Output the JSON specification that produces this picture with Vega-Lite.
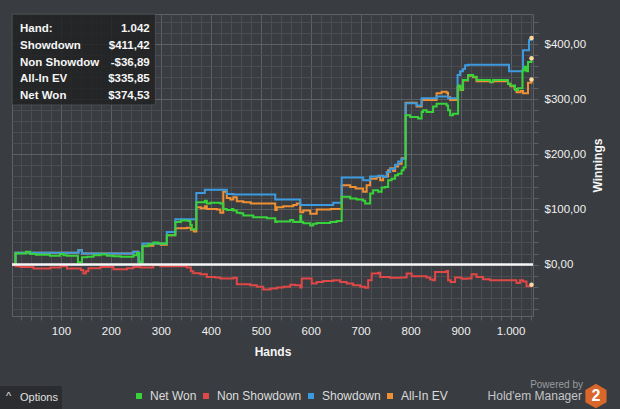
{
  "$schema": "https://vega.github.io/schema/vega-lite/v6.json",
  "width": 521,
  "height": 302,
  "autosize": {"type": "none"},
  "padding": {"left": 12, "top": 14, "right": 87, "bottom": 93},
  "background": "#393c40",
  "config": {
    "locale": {"number": {"decimal": ",", "thousands": ".", "grouping": [3], "currency": ["$", ""]}},
    "font": "Liberation Sans",
    "view": {"stroke": "#5e6165", "strokeWidth": 1}
  },
  "datasets": {
    "series": [
      {"hand": 2, "series": "All-In EV", "value": 0},
      {"hand": 9, "series": "All-In EV", "value": 21.5},
      {"hand": 135, "series": "All-In EV", "value": 26},
      {"hand": 142, "series": "All-In EV", "value": 20},
      {"hand": 245, "series": "All-In EV", "value": 23},
      {"hand": 255, "series": "All-In EV", "value": 5},
      {"hand": 263, "series": "All-In EV", "value": 34},
      {"hand": 285, "series": "All-In EV", "value": 38},
      {"hand": 300, "series": "All-In EV", "value": 36},
      {"hand": 312, "series": "All-In EV", "value": 53},
      {"hand": 329, "series": "All-In EV", "value": 66},
      {"hand": 352, "series": "All-In EV", "value": 67},
      {"hand": 360, "series": "All-In EV", "value": 63},
      {"hand": 366, "series": "All-In EV", "value": 60},
      {"hand": 371, "series": "All-In EV", "value": 104},
      {"hand": 380, "series": "All-In EV", "value": 102},
      {"hand": 388, "series": "All-In EV", "value": 106},
      {"hand": 392, "series": "All-In EV", "value": 101},
      {"hand": 412, "series": "All-In EV", "value": 100},
      {"hand": 419, "series": "All-In EV", "value": 94},
      {"hand": 425, "series": "All-In EV", "value": 132},
      {"hand": 432, "series": "All-In EV", "value": 121},
      {"hand": 439, "series": "All-In EV", "value": 118},
      {"hand": 445, "series": "All-In EV", "value": 122},
      {"hand": 452, "series": "All-In EV", "value": 115},
      {"hand": 465, "series": "All-In EV", "value": 113},
      {"hand": 480, "series": "All-In EV", "value": 111},
      {"hand": 529, "series": "All-In EV", "value": 99},
      {"hand": 532, "series": "All-In EV", "value": 104},
      {"hand": 545, "series": "All-In EV", "value": 106},
      {"hand": 565, "series": "All-In EV", "value": 108},
      {"hand": 572, "series": "All-In EV", "value": 111},
      {"hand": 579, "series": "All-In EV", "value": 95},
      {"hand": 585, "series": "All-In EV", "value": 98},
      {"hand": 599, "series": "All-In EV", "value": 92},
      {"hand": 612, "series": "All-In EV", "value": 100},
      {"hand": 640, "series": "All-In EV", "value": 101},
      {"hand": 662, "series": "All-In EV", "value": 144},
      {"hand": 679, "series": "All-In EV", "value": 141},
      {"hand": 690, "series": "All-In EV", "value": 138},
      {"hand": 705, "series": "All-In EV", "value": 132},
      {"hand": 712, "series": "All-In EV", "value": 144},
      {"hand": 719, "series": "All-In EV", "value": 156},
      {"hand": 732, "series": "All-In EV", "value": 159},
      {"hand": 739, "series": "All-In EV", "value": 153},
      {"hand": 745, "series": "All-In EV", "value": 160},
      {"hand": 755, "series": "All-In EV", "value": 171},
      {"hand": 759, "series": "All-In EV", "value": 175},
      {"hand": 765, "series": "All-In EV", "value": 170},
      {"hand": 769, "series": "All-In EV", "value": 178},
      {"hand": 775, "series": "All-In EV", "value": 183},
      {"hand": 782, "series": "All-In EV", "value": 193},
      {"hand": 790, "series": "All-In EV", "value": 294},
      {"hand": 812, "series": "All-In EV", "value": 287},
      {"hand": 822, "series": "All-In EV", "value": 299},
      {"hand": 852, "series": "All-In EV", "value": 311},
      {"hand": 862, "series": "All-In EV", "value": 314},
      {"hand": 872, "series": "All-In EV", "value": 312},
      {"hand": 875, "series": "All-In EV", "value": 304},
      {"hand": 879, "series": "All-In EV", "value": 299},
      {"hand": 894, "series": "All-In EV", "value": 323},
      {"hand": 900, "series": "All-In EV", "value": 317},
      {"hand": 905, "series": "All-In EV", "value": 334},
      {"hand": 915, "series": "All-In EV", "value": 343},
      {"hand": 925, "series": "All-In EV", "value": 340},
      {"hand": 932, "series": "All-In EV", "value": 333},
      {"hand": 959, "series": "All-In EV", "value": 331},
      {"hand": 965, "series": "All-In EV", "value": 333},
      {"hand": 995, "series": "All-In EV", "value": 328},
      {"hand": 1000, "series": "All-In EV", "value": 324},
      {"hand": 1008, "series": "All-In EV", "value": 319},
      {"hand": 1012, "series": "All-In EV", "value": 313},
      {"hand": 1020, "series": "All-In EV", "value": 315},
      {"hand": 1025, "series": "All-In EV", "value": 311},
      {"hand": 1035, "series": "All-In EV", "value": 330},
      {"hand": 1042, "series": "All-In EV", "value": 335.85},

      {"hand": 2, "series": "Showdown", "value": 0},
      {"hand": 9, "series": "Showdown", "value": 21.5},
      {"hand": 135, "series": "Showdown", "value": 26},
      {"hand": 142, "series": "Showdown", "value": 20},
      {"hand": 245, "series": "Showdown", "value": 23},
      {"hand": 255, "series": "Showdown", "value": 5},
      {"hand": 263, "series": "Showdown", "value": 38},
      {"hand": 312, "series": "Showdown", "value": 59},
      {"hand": 329, "series": "Showdown", "value": 82},
      {"hand": 371, "series": "Showdown", "value": 130},
      {"hand": 388, "series": "Showdown", "value": 136},
      {"hand": 432, "series": "Showdown", "value": 128},
      {"hand": 445, "series": "Showdown", "value": 127},
      {"hand": 529, "series": "Showdown", "value": 118},
      {"hand": 579, "series": "Showdown", "value": 108},
      {"hand": 645, "series": "Showdown", "value": 112},
      {"hand": 662, "series": "Showdown", "value": 158},
      {"hand": 705, "series": "Showdown", "value": 153},
      {"hand": 719, "series": "Showdown", "value": 160},
      {"hand": 735, "series": "Showdown", "value": 161},
      {"hand": 745, "series": "Showdown", "value": 159},
      {"hand": 752, "series": "Showdown", "value": 168},
      {"hand": 759, "series": "Showdown", "value": 174},
      {"hand": 769, "series": "Showdown", "value": 181},
      {"hand": 775, "series": "Showdown", "value": 187},
      {"hand": 782, "series": "Showdown", "value": 192},
      {"hand": 790, "series": "Showdown", "value": 293},
      {"hand": 812, "series": "Showdown", "value": 289},
      {"hand": 822, "series": "Showdown", "value": 302},
      {"hand": 852, "series": "Showdown", "value": 305},
      {"hand": 875, "series": "Showdown", "value": 302},
      {"hand": 894, "series": "Showdown", "value": 344},
      {"hand": 899, "series": "Showdown", "value": 351},
      {"hand": 905, "series": "Showdown", "value": 355},
      {"hand": 909, "series": "Showdown", "value": 362},
      {"hand": 915, "series": "Showdown", "value": 363},
      {"hand": 997, "series": "Showdown", "value": 351},
      {"hand": 1025, "series": "Showdown", "value": 389},
      {"hand": 1037, "series": "Showdown", "value": 408},
      {"hand": 1042, "series": "Showdown", "value": 411.42},

      {"hand": 2, "series": "Net Won", "value": 0},
      {"hand": 9, "series": "Net Won", "value": 20},
      {"hand": 30, "series": "Net Won", "value": 23},
      {"hand": 38, "series": "Net Won", "value": 19},
      {"hand": 50, "series": "Net Won", "value": 17.6},
      {"hand": 78, "series": "Net Won", "value": 16},
      {"hand": 98, "series": "Net Won", "value": 19},
      {"hand": 105, "series": "Net Won", "value": 17},
      {"hand": 112, "series": "Net Won", "value": 16},
      {"hand": 134, "series": "Net Won", "value": 4},
      {"hand": 142, "series": "Net Won", "value": 13},
      {"hand": 152, "series": "Net Won", "value": 14},
      {"hand": 165, "series": "Net Won", "value": 17},
      {"hand": 179, "series": "Net Won", "value": 18},
      {"hand": 192, "series": "Net Won", "value": 16},
      {"hand": 205, "series": "Net Won", "value": 15},
      {"hand": 219, "series": "Net Won", "value": 14},
      {"hand": 245, "series": "Net Won", "value": 17},
      {"hand": 252, "series": "Net Won", "value": 21},
      {"hand": 257, "series": "Net Won", "value": 3},
      {"hand": 263, "series": "Net Won", "value": 33},
      {"hand": 275, "series": "Net Won", "value": 37},
      {"hand": 285, "series": "Net Won", "value": 40},
      {"hand": 295, "series": "Net Won", "value": 38},
      {"hand": 312, "series": "Net Won", "value": 53},
      {"hand": 329, "series": "Net Won", "value": 77},
      {"hand": 340, "series": "Net Won", "value": 80},
      {"hand": 355, "series": "Net Won", "value": 79},
      {"hand": 359, "series": "Net Won", "value": 72},
      {"hand": 362, "series": "Net Won", "value": 64},
      {"hand": 371, "series": "Net Won", "value": 113},
      {"hand": 388, "series": "Net Won", "value": 116},
      {"hand": 392, "series": "Net Won", "value": 111},
      {"hand": 399, "series": "Net Won", "value": 112},
      {"hand": 419, "series": "Net Won", "value": 111},
      {"hand": 425, "series": "Net Won", "value": 101},
      {"hand": 432, "series": "Net Won", "value": 99},
      {"hand": 442, "series": "Net Won", "value": 101},
      {"hand": 445, "series": "Net Won", "value": 98},
      {"hand": 452, "series": "Net Won", "value": 94},
      {"hand": 459, "series": "Net Won", "value": 93},
      {"hand": 465, "series": "Net Won", "value": 89},
      {"hand": 485, "series": "Net Won", "value": 86},
      {"hand": 512, "series": "Net Won", "value": 84},
      {"hand": 529, "series": "Net Won", "value": 77},
      {"hand": 532, "series": "Net Won", "value": 78},
      {"hand": 559, "series": "Net Won", "value": 81},
      {"hand": 565, "series": "Net Won", "value": 77},
      {"hand": 579, "series": "Net Won", "value": 89},
      {"hand": 581, "series": "Net Won", "value": 77},
      {"hand": 585, "series": "Net Won", "value": 75},
      {"hand": 599, "series": "Net Won", "value": 71},
      {"hand": 605, "series": "Net Won", "value": 74},
      {"hand": 612, "series": "Net Won", "value": 75.5},
      {"hand": 639, "series": "Net Won", "value": 77},
      {"hand": 652, "series": "Net Won", "value": 79},
      {"hand": 662, "series": "Net Won", "value": 123},
      {"hand": 679, "series": "Net Won", "value": 120},
      {"hand": 692, "series": "Net Won", "value": 118},
      {"hand": 705, "series": "Net Won", "value": 116},
      {"hand": 709, "series": "Net Won", "value": 111},
      {"hand": 719, "series": "Net Won", "value": 129},
      {"hand": 725, "series": "Net Won", "value": 135},
      {"hand": 735, "series": "Net Won", "value": 132},
      {"hand": 742, "series": "Net Won", "value": 140},
      {"hand": 749, "series": "Net Won", "value": 141},
      {"hand": 755, "series": "Net Won", "value": 153},
      {"hand": 762, "series": "Net Won", "value": 156},
      {"hand": 769, "series": "Net Won", "value": 162},
      {"hand": 775, "series": "Net Won", "value": 165},
      {"hand": 782, "series": "Net Won", "value": 171},
      {"hand": 786, "series": "Net Won", "value": 176},
      {"hand": 790, "series": "Net Won", "value": 271},
      {"hand": 799, "series": "Net Won", "value": 268},
      {"hand": 815, "series": "Net Won", "value": 265},
      {"hand": 822, "series": "Net Won", "value": 277},
      {"hand": 825, "series": "Net Won", "value": 280},
      {"hand": 832, "series": "Net Won", "value": 277},
      {"hand": 845, "series": "Net Won", "value": 287},
      {"hand": 852, "series": "Net Won", "value": 292},
      {"hand": 872, "series": "Net Won", "value": 289},
      {"hand": 875, "series": "Net Won", "value": 280},
      {"hand": 879, "series": "Net Won", "value": 271},
      {"hand": 885, "series": "Net Won", "value": 274},
      {"hand": 895, "series": "Net Won", "value": 325},
      {"hand": 900, "series": "Net Won", "value": 318},
      {"hand": 905, "series": "Net Won", "value": 335},
      {"hand": 915, "series": "Net Won", "value": 344},
      {"hand": 925, "series": "Net Won", "value": 341},
      {"hand": 932, "series": "Net Won", "value": 335},
      {"hand": 959, "series": "Net Won", "value": 332},
      {"hand": 965, "series": "Net Won", "value": 335},
      {"hand": 995, "series": "Net Won", "value": 329},
      {"hand": 999, "series": "Net Won", "value": 325},
      {"hand": 1009, "series": "Net Won", "value": 317},
      {"hand": 1015, "series": "Net Won", "value": 320},
      {"hand": 1024, "series": "Net Won", "value": 353},
      {"hand": 1028, "series": "Net Won", "value": 359},
      {"hand": 1032, "series": "Net Won", "value": 351},
      {"hand": 1035, "series": "Net Won", "value": 368},
      {"hand": 1042, "series": "Net Won", "value": 374.53},

      {"hand": 2, "series": "Non Showdown", "value": 0},
      {"hand": 9, "series": "Non Showdown", "value": -3},
      {"hand": 19, "series": "Non Showdown", "value": -4.5},
      {"hand": 45, "series": "Non Showdown", "value": -7.3},
      {"hand": 79, "series": "Non Showdown", "value": -5.5},
      {"hand": 99, "series": "Non Showdown", "value": -3},
      {"hand": 112, "series": "Non Showdown", "value": -7.3},
      {"hand": 140, "series": "Non Showdown", "value": -10},
      {"hand": 145, "series": "Non Showdown", "value": -16.4},
      {"hand": 150, "series": "Non Showdown", "value": -12},
      {"hand": 155, "series": "Non Showdown", "value": -7},
      {"hand": 179, "series": "Non Showdown", "value": -4.5},
      {"hand": 205, "series": "Non Showdown", "value": -8.5},
      {"hand": 232, "series": "Non Showdown", "value": -7},
      {"hand": 245, "series": "Non Showdown", "value": -4.5},
      {"hand": 259, "series": "Non Showdown", "value": -5.5},
      {"hand": 285, "series": "Non Showdown", "value": -1},
      {"hand": 299, "series": "Non Showdown", "value": -3},
      {"hand": 339, "series": "Non Showdown", "value": -3},
      {"hand": 352, "series": "Non Showdown", "value": -5.5},
      {"hand": 360, "series": "Non Showdown", "value": -12},
      {"hand": 365, "series": "Non Showdown", "value": -16},
      {"hand": 379, "series": "Non Showdown", "value": -17.6},
      {"hand": 392, "series": "Non Showdown", "value": -22.5},
      {"hand": 409, "series": "Non Showdown", "value": -23.5},
      {"hand": 419, "series": "Non Showdown", "value": -25.5},
      {"hand": 445, "series": "Non Showdown", "value": -24},
      {"hand": 452, "series": "Non Showdown", "value": -36},
      {"hand": 479, "series": "Non Showdown", "value": -37.6},
      {"hand": 492, "series": "Non Showdown", "value": -40.6},
      {"hand": 505, "series": "Non Showdown", "value": -45.5},
      {"hand": 519, "series": "Non Showdown", "value": -43.6},
      {"hand": 532, "series": "Non Showdown", "value": -41.8},
      {"hand": 545, "series": "Non Showdown", "value": -40.6},
      {"hand": 559, "series": "Non Showdown", "value": -36.6},
      {"hand": 569, "series": "Non Showdown", "value": -37.6},
      {"hand": 579, "series": "Non Showdown", "value": -41.8},
      {"hand": 582, "series": "Non Showdown", "value": -25.5},
      {"hand": 595, "series": "Non Showdown", "value": -25.5},
      {"hand": 602, "series": "Non Showdown", "value": -34.5},
      {"hand": 612, "series": "Non Showdown", "value": -31.6},
      {"hand": 625, "series": "Non Showdown", "value": -30},
      {"hand": 645, "series": "Non Showdown", "value": -28.5},
      {"hand": 659, "series": "Non Showdown", "value": -31.6},
      {"hand": 672, "series": "Non Showdown", "value": -34.5},
      {"hand": 685, "series": "Non Showdown", "value": -37.6},
      {"hand": 699, "series": "Non Showdown", "value": -40.6},
      {"hand": 709, "series": "Non Showdown", "value": -42},
      {"hand": 715, "series": "Non Showdown", "value": -28.5},
      {"hand": 722, "series": "Non Showdown", "value": -16.4},
      {"hand": 735, "series": "Non Showdown", "value": -15},
      {"hand": 739, "series": "Non Showdown", "value": -22.5},
      {"hand": 759, "series": "Non Showdown", "value": -24},
      {"hand": 779, "series": "Non Showdown", "value": -23.6},
      {"hand": 792, "series": "Non Showdown", "value": -16.4},
      {"hand": 802, "series": "Non Showdown", "value": -21.2},
      {"hand": 832, "series": "Non Showdown", "value": -23.6},
      {"hand": 839, "series": "Non Showdown", "value": -27.3},
      {"hand": 845, "series": "Non Showdown", "value": -28.5},
      {"hand": 849, "series": "Non Showdown", "value": -13.5},
      {"hand": 862, "series": "Non Showdown", "value": -13.5},
      {"hand": 872, "series": "Non Showdown", "value": -11.6},
      {"hand": 875, "series": "Non Showdown", "value": -28.5},
      {"hand": 880, "series": "Non Showdown", "value": -31.6},
      {"hand": 889, "series": "Non Showdown", "value": -23.6},
      {"hand": 902, "series": "Non Showdown", "value": -26},
      {"hand": 912, "series": "Non Showdown", "value": -25.5},
      {"hand": 922, "series": "Non Showdown", "value": -17.6},
      {"hand": 932, "series": "Non Showdown", "value": -22.5},
      {"hand": 945, "series": "Non Showdown", "value": -26.7},
      {"hand": 959, "series": "Non Showdown", "value": -28.5},
      {"hand": 1005, "series": "Non Showdown", "value": -28.5},
      {"hand": 1012, "series": "Non Showdown", "value": -33.4},
      {"hand": 1019, "series": "Non Showdown", "value": -28.5},
      {"hand": 1025, "series": "Non Showdown", "value": -31},
      {"hand": 1032, "series": "Non Showdown", "value": -39.5},
      {"hand": 1042, "series": "Non Showdown", "value": -36.89}
    ],
    "box": [
      {"label": "Hand:", "value": "1.042"},
      {"label": "Showdown", "value": "$411,42"},
      {"label": "Non Showdown", "value": "-$36,89"},
      {"label": "All-In EV", "value": "$335,85"},
      {"label": "Net Won", "value": "$374,53"}
    ]
  },
  "layer": [
    {
      "layer": [
        {
          "data": {"name": "series"},
          "mark": {"type": "line", "interpolate": "step-after", "strokeWidth": 2},
          "encoding": {
            "x": {
              "field": "hand", "type": "quantitative",
              "scale": {"domain": [2, 1045], "nice": false, "zero": false},
              "axis": {
                "values": [20,40,60,80,100,120,140,160,180,200,220,240,260,280,300,320,340,360,380,400,420,440,460,480,500,520,540,560,580,600,620,640,660,680,700,720,740,760,780,800,820,840,860,880,900,920,940,960,980,1000,1020,1040],
                "tickCount": 200,
                "format": ",d",
                "labelExpr": "datum.value % 100 === 0 ? datum.label : ''",
                "labelOverlap": false, "labelFlush": false,
                "grid": true,
                "gridColor": {"condition": {"test": "datum.value % 100 === 0", "value": "#5d6064"}, "value": "#4a4d51"},
                "domain": false,
                "tickSize": 4, "tickColor": "#5d6064",
                "labelColor": "#f0f0f0", "labelFontSize": 11.5, "labelPadding": 5,
                "title": "Hands", "titleColor": "#f5f5f5", "titleFontSize": 12, "titleFontWeight": "bold", "titlePadding": 10
              }
            },
            "y": {
              "field": "value", "type": "quantitative",
              "scale": {"domain": [-93.5, 455], "nice": false, "zero": false},
              "axis": {
                "orient": "right",
                "values": [-80,-60,-40,-20,0,20,40,60,80,100,120,140,160,180,200,220,240,260,280,300,320,340,360,380,400,420,440],
                "tickCount": 200,
                "format": "$,.2f",
                "labelExpr": "datum.value % 100 === 0 ? datum.label : ''",
                "labelOverlap": false, "labelFlush": false,
                "grid": true,
                "gridColor": {"condition": {"test": "datum.value % 100 === 0", "value": "#5d6064"}, "value": "#4a4d51"},
                "domain": false,
                "tickSize": 5, "tickColor": "#5d6064",
                "labelColor": "#f0f0f0", "labelFontSize": 11.5, "labelPadding": 6,
                "title": "Winnings", "titleColor": "#f5f5f5", "titleFontSize": 12, "titleFontWeight": "bold", "titleAngle": 270, "titlePadding": 19
              }
            },
            "color": {
              "field": "series", "type": "nominal",
              "scale": {"domain": ["Net Won", "Non Showdown", "Showdown", "All-In EV"], "range": ["#38d23a", "#e04848", "#3c9be0", "#ee9033"]},
              "legend": {
                "orient": "none", "legendX": 121, "legendY": 376,
                "direction": "horizontal", "title": null,
                "symbolType": "square", "symbolSize": 36,
                "labelFontSize": 12, "labelColor": "#dcdcdc", "labelOffset": 5, "columnPadding": 3,
                "encode": {"symbols": {"update": {"fill": {"scale": "color", "field": "value"}, "fillOpacity": {"value": 1}, "strokeWidth": {"value": 0}}}}
              }
            }
          }
        },
        {
          "data": {"values": [{}]},
          "mark": {"type": "rule", "color": "#f5f5f5", "strokeWidth": 2.5},
          "encoding": {"y": {"datum": 0, "type": "quantitative"}}
        },
        {
          "data": {"name": "series"},
          "transform": [{"filter": "datum.hand == 1042"}],
          "mark": {"type": "point", "filled": true, "color": "#ffd9a0", "size": 20, "opacity": 1},
          "encoding": {
            "x": {"field": "hand", "type": "quantitative"},
            "y": {"field": "value", "type": "quantitative"}
          }
        },
        {
          "data": {"values": [{}]},
          "mark": {"type": "rect", "color": "#1f2022", "opacity": 0.82, "stroke": "#4e5155", "strokeWidth": 1},
          "encoding": {
            "x": {"datum": 2, "type": "quantitative"}, "x2": {"datum": 289},
            "y": {"datum": 455, "type": "quantitative"}, "y2": {"datum": 289.7}
          }
        },
        {
          "data": {"values": [{}]},
          "mark": {"type": "rect", "color": "#2b2d30"},
          "encoding": {
            "x": {"datum": -22, "type": "quantitative"}, "x2": {"datum": 102},
            "y": {"datum": -220.6, "type": "quantitative"}, "y2": {"datum": -262.4}
          }
        },
        {
          "data": {"values": [{}]},
          "mark": {"type": "text", "text": "^", "color": "#e0e0e0", "fontSize": 11, "align": "left", "baseline": "middle"},
          "encoding": {"x": {"datum": -10, "type": "quantitative"}, "y": {"datum": -240, "type": "quantitative"}}
        },
        {
          "data": {"values": [{}]},
          "mark": {"type": "text", "text": "Options", "color": "#e0e0e0", "fontSize": 11, "align": "left", "baseline": "middle"},
          "encoding": {"x": {"datum": 18, "type": "quantitative"}, "y": {"datum": -242.4, "type": "quantitative"}}
        },
        {
          "data": {"values": [{}]},
          "mark": {"type": "text", "text": "Powered by", "color": "#9a9c9f", "fontSize": 10, "align": "right", "baseline": "middle"},
          "encoding": {"x": {"datum": 1145, "type": "quantitative"}, "y": {"datum": -218.8, "type": "quantitative"}}
        },
        {
          "data": {"values": [{}]},
          "mark": {"type": "text", "text": "Hold'em Manager", "color": "#c4c6c8", "fontSize": 12, "align": "right", "baseline": "middle"},
          "encoding": {"x": {"datum": 1143, "type": "quantitative"}, "y": {"datum": -238.8, "type": "quantitative"}}
        },
        {
          "data": {"values": [{}]},
          "mark": {"type": "point", "shape": "M0,-1L0.866,-0.5L0.866,0.5L0,1L-0.866,0.5L-0.866,-0.5Z", "filled": true, "color": "#d9662b", "size": 600, "opacity": 1},
          "encoding": {"x": {"datum": 1171, "type": "quantitative"}, "y": {"datum": -238.8, "type": "quantitative"}}
        },
        {
          "data": {"values": [{}]},
          "mark": {"type": "text", "text": "2", "color": "#ffffff", "fontSize": 16, "fontWeight": "bold", "align": "center", "baseline": "middle"},
          "encoding": {"x": {"datum": 1171, "type": "quantitative"}, "y": {"datum": -239.5, "type": "quantitative"}}
        }
      ]
    },
    {
      "data": {"name": "box"},
      "encoding": {
        "y": {"field": "label", "type": "nominal", "sort": null, "scale": {"type": "point", "range": [15, 82], "padding": 0}, "axis": null}
      },
      "layer": [
        {
          "mark": {"type": "text", "align": "left", "baseline": "middle", "fontSize": 11.5, "fontWeight": "bold", "color": "#f5f5f5", "limit": 81, "ellipsis": "\u200b"},
          "encoding": {"x": {"datum": 18, "type": "quantitative"}, "text": {"field": "label"}}
        },
        {
          "mark": {"type": "text", "align": "right", "baseline": "middle", "fontSize": 11.5, "fontWeight": "bold", "color": "#f5f5f5"},
          "encoding": {"x": {"datum": 277.7, "type": "quantitative"}, "text": {"field": "value"}}
        }
      ]
    }
  ],
  "resolve": {"scale": {"y": "independent"}}
}
